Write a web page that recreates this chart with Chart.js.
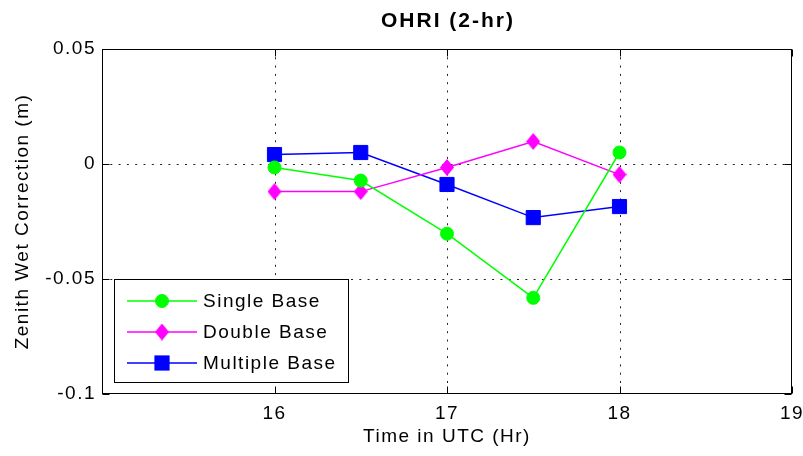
<!DOCTYPE html>
<html><head><meta charset="utf-8">
<script src="https://cdn.jsdelivr.net/npm/chart.js@4"></script>
<style>html,body{margin:0;padding:0;background:#fff}#wrap{width:803px;height:456px;position:relative}</style>
</head><body><div id="wrap"><canvas id="c"></canvas></div>
<script>
const titleText = 'OHRI (2-hr)';
const xTitle = 'Time in UTC (Hr)';
const yTitle = 'Zenith Wet Correction (m)';
const times = [16, 16.5, 17, 17.5, 18];
const singleBase = [-0.0015, -0.0072, -0.0303, -0.0582, 0.0050];
const doubleBase = [-0.0120, -0.0120, -0.0015, 0.0098, -0.0046];
const multipleBase = [0.0041, 0.0050, -0.0089, -0.0233, -0.0185];
const seriesNames = ['Single Base', 'Double Base', 'Multiple Base'];
const seriesColors = ['#00ff00', '#ff00ff', '#0000ff'];
const xTicks = [16, 17, 18, 19];
const xTickLabels = ['16', '17', '18', '19'];
const yTicks = [-0.1, -0.05, 0, 0.05];
const yTickLabels = ['-0.1', '-0.05', '0', '0.05'];
const xGrid = [16, 17, 18];
const yGrid = [0, -0.05];

const FAM = '"Liberation Sans", Arial, sans-serif';
const SP = '1.5px';

function diamond(w, h, color) {
  const c = document.createElement('canvas'); c.width = w; c.height = h;
  const g = c.getContext('2d'); g.fillStyle = color;
  g.beginPath(); g.moveTo(w/2, 0); g.lineTo(w, h/2); g.lineTo(w/2, h); g.lineTo(0, h/2); g.closePath(); g.fill();
  return c;
}
const diamondImg = diamond(14, 17, seriesColors[1]);
const styles = ['circle', diamondImg, 'rect'];
const radii = [6.5, 7, 10];

function mk(i, vals) {
  return {
    label: seriesNames[i],
    data: times.map((t, k) => ({x: t, y: vals[k]})),
    borderColor: seriesColors[i], backgroundColor: seriesColors[i],
    borderWidth: 1.5, tension: 0,
    pointStyle: styles[i], pointRadius: radii[i], pointBorderWidth: 1,
    pointBackgroundColor: seriesColors[i], pointBorderColor: seriesColors[i]
  };
}

function drawMarker(ctx, i, x, y) {
  ctx.save();
  ctx.fillStyle = seriesColors[i]; ctx.strokeStyle = seriesColors[i]; ctx.lineWidth = 1;
  if (i === 0) { ctx.beginPath(); ctx.arc(x, y, 6.5, 0, Math.PI*2); ctx.fill(); ctx.stroke(); }
  else if (i === 1) { ctx.drawImage(diamondImg, x - 7, y - 8.5); }
  else { const s = 10 * Math.SQRT1_2; ctx.fillRect(x - s, y - s, 2*s, 2*s); ctx.strokeRect(x - s, y - s, 2*s, 2*s); }
  ctx.restore();
}

const frame = {
  id: 'frame',
  beforeLayout(chart) { chart.ctx.letterSpacing = SP; },
  beforeDraw(chart) { chart.ctx.letterSpacing = SP; },
  beforeDatasetsDraw(chart) {
    const {ctx, chartArea: a, scales: {x, y}} = chart;
    ctx.save(); ctx.strokeStyle = '#222'; ctx.lineWidth = 1; ctx.setLineDash([2, 6.3]);
    xGrid.forEach(v => { const p = Math.round(x.getPixelForValue(v)) + 0.5; ctx.beginPath(); ctx.moveTo(p, a.top); ctx.lineTo(p, a.bottom); ctx.stroke(); });
    yGrid.forEach(v => { const p = Math.round(y.getPixelForValue(v)) + 0.5; ctx.beginPath(); ctx.moveTo(a.left, p); ctx.lineTo(a.right, p); ctx.stroke(); });
    ctx.restore();
  },
  afterDatasetsDraw(chart) {
    const {ctx, chartArea: a, scales: {x, y}} = chart;
    ctx.save();
    ctx.strokeStyle = '#000'; ctx.lineWidth = 1; ctx.setLineDash([]);
    const L = a.left + 0.5, R = a.right - 0.5, T = a.top + 0.5, B = a.bottom - 0.5;
    ctx.strokeRect(L, T, R - L, B - T);
    const tl = 7;
    ctx.beginPath();
    xTicks.forEach(v => { const p = Math.round(x.getPixelForValue(v)) + 0.5; ctx.moveTo(p, B); ctx.lineTo(p, B - tl); ctx.moveTo(p, T); ctx.lineTo(p, T + tl); });
    yTicks.forEach(v => { const p = Math.round(y.getPixelForValue(v)) + 0.5; ctx.moveTo(L, p); ctx.lineTo(L + tl, p); ctx.moveTo(R, p); ctx.lineTo(R - tl, p); });
    ctx.stroke();
    // legend
    const lx = 114.5, ly = 279.5, lw = 234, lh = 103;
    ctx.fillStyle = '#fff'; ctx.fillRect(lx, ly, lw, lh); ctx.strokeRect(lx, ly, lw, lh);
    const rows = [301, 332, 363];
    ctx.font = '19px ' + FAM; ctx.letterSpacing = SP; ctx.textAlign = 'left'; ctx.textBaseline = 'middle';
    seriesNames.forEach((n, i) => {
      ctx.strokeStyle = seriesColors[i]; ctx.lineWidth = 1.5;
      ctx.beginPath(); ctx.moveTo(127, rows[i]); ctx.lineTo(197, rows[i]); ctx.stroke();
      drawMarker(ctx, i, 162, rows[i]);
      ctx.fillStyle = '#000'; ctx.fillText(n, 203, rows[i] + 1);
    });
    // title
    ctx.font = 'bold 21px ' + FAM; ctx.letterSpacing = '2px'; ctx.textAlign = 'center'; ctx.fillStyle = '#000';
    ctx.fillText(titleText, (a.left + a.right) / 2 + 1, 21);
    ctx.letterSpacing = SP;
    ctx.restore();
  }
};

const tickFont = {family: FAM, size: 19};
new Chart(document.getElementById('c'), {
  type: 'line',
  data: { datasets: [mk(0, singleBase), mk(1, doubleBase), mk(2, multipleBase)] },
  options: {
    responsive: true, maintainAspectRatio: false, animation: false,
    layout: { padding: { top: 49, right: 10, left: 0, bottom: 0 } },
    plugins: { legend: { display: false }, tooltip: { enabled: false }, title: { display: false } },
    scales: {
      x: {
        type: 'linear', min: 15, max: 19,
        afterBuildTicks: s => { s.ticks = xTicks.map(v => ({value: v})); },
        afterFit: s => { s.height = 62; s.paddingRight = 0; s.paddingLeft = 0; },
        ticks: { callback: v => xTickLabels[xTicks.indexOf(v)], color: '#000', font: tickFont, padding: 8, maxRotation: 0, autoSkip: false },
        grid: { display: false, drawTicks: false }, border: { display: false },
        title: { display: true, text: xTitle, color: '#000', font: tickFont, padding: { top: 0, bottom: 7.6 } }
      },
      y: {
        type: 'linear', min: -0.1, max: 0.05,
        afterBuildTicks: s => { s.ticks = yTicks.map(v => ({value: v})); },
        afterFit: s => { s.width = 102; s.paddingTop = 0; s.paddingBottom = 0; },
        ticks: { callback: v => yTickLabels[yTicks.indexOf(v)], color: '#000', font: tickFont, padding: 6, autoSkip: false },
        grid: { display: false, drawTicks: false }, border: { display: false },
        title: { display: true, text: yTitle, color: '#000', font: tickFont, padding: { top: 11, bottom: 0 } }
      }
    }
  },
  plugins: [frame]
});
</script></body></html>
